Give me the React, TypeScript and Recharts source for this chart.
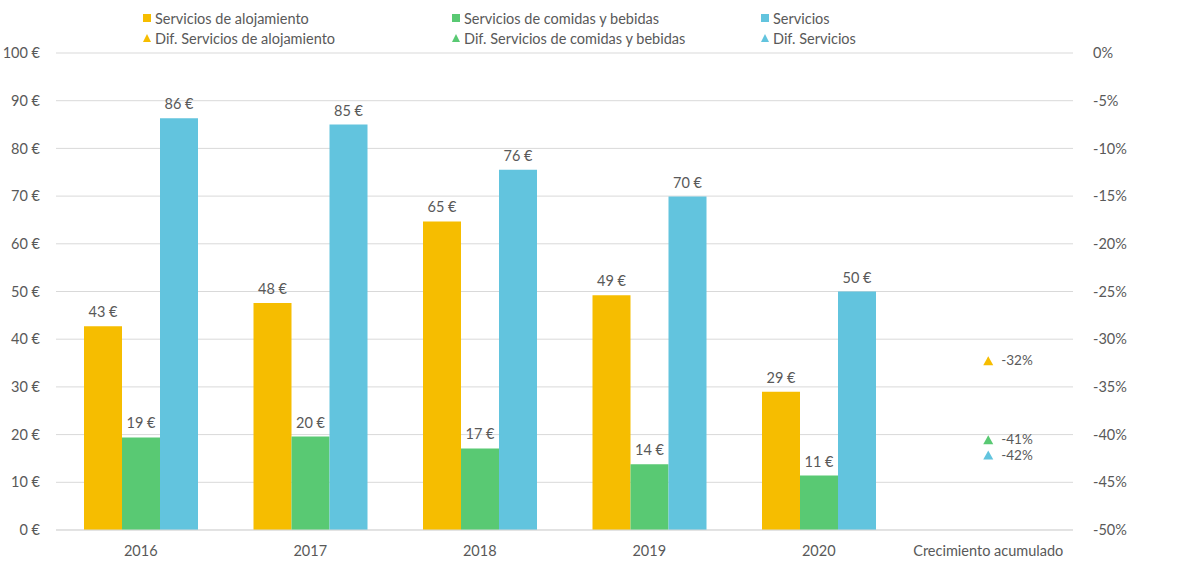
import React from 'react';
import {
  ComposedChart,
  Bar,
  Scatter,
  XAxis,
  YAxis,
  CartesianGrid,
  LabelList,
} from 'recharts';

const categories = ['2016', '2017', '2018', '2019', '2020', 'Crecimiento acumulado'];
const alojamiento = [42.7, 47.6, 64.7, 49.2, 29.0, null];
const comidas = [19.4, 19.6, 17.1, 13.8, 11.4, null];
const servicios = [86.3, 85.0, 75.5, 69.9, 50.0, null];
const difAlojamiento = [null, null, null, null, null, -32.3];
const difComidas = [null, null, null, null, null, -40.6];
const difServicios = [null, null, null, null, null, -42.2];

const leftTicks = [0, 10, 20, 30, 40, 50, 60, 70, 80, 90, 100];
const rightTicks = [0, -5, -10, -15, -20, -25, -30, -35, -40, -45, -50];

const YELLOW = '#F6BD00';
const GREEN = '#59C973';
const BLUE = '#62C4DE';
const TEXT = '#595959';
const GRID = '#D9D9D9';
const FONT = 'Lato, "Noto Sans", sans-serif';
const FS = 14.5;

const data = categories.map((name, i) => ({
  name,
  alojamiento: alojamiento[i],
  comidas: comidas[i],
  servicios: servicios[i],
  difAlojamiento: difAlojamiento[i],
  difComidas: difComidas[i],
  difServicios: difServicios[i],
}));

const legendItems = [
  { label: 'Servicios de alojamiento', color: YELLOW, type: 'square', x: 142, y: 18 },
  { label: 'Servicios de comidas y bebidas', color: GREEN, type: 'square', x: 451, y: 18 },
  { label: 'Servicios', color: BLUE, type: 'square', x: 760, y: 18 },
  { label: 'Dif. Servicios de alojamiento', color: YELLOW, type: 'triangle', x: 142, y: 38 },
  { label: 'Dif. Servicios de comidas y bebidas', color: GREEN, type: 'triangle', x: 451, y: 38 },
  { label: 'Dif. Servicios', color: BLUE, type: 'triangle', x: 760, y: 38 },
];

const Triangle = (props: any) => {
  const { cx, cy, fill } = props;
  if (cx == null || cy == null) return null;
  return <polygon points={`${cx - 5},${cy + 4} ${cx + 5},${cy + 4} ${cx},${cy - 5}`} fill={fill} />;
};

const euro = (v: any) => (v == null ? '' : `${Math.round(v)} €`);

const pctLabel = (props: any) => {
  const { x, y, width, height, value } = props;
  if (value == null) return null;
  const cx = x + (width || 0) / 2;
  const cy = y + (height || 0) / 2;
  return (
    <text x={cx + 13} y={cy} dy={4} fill={TEXT} fontSize={13.5} fontFamily={FONT}>
      {`${Math.round(value)}%`}
    </text>
  );
};

export default function App() {
  return (
    <div style={{ position: 'absolute', left: 0, top: 0, width: 1180, height: 571, background: '#fff', fontFamily: FONT }}>
      {legendItems.map((item) => (
        <div
          key={item.label}
          style={{ position: 'absolute', left: item.x, top: item.y - 9, height: 18, display: 'flex', alignItems: 'center', fontSize: FS, color: TEXT }}
        >
          <svg width={10} height={10} style={{ marginRight: 3 }}>
            {item.type === 'square' ? (
              <rect x={1} y={1} width={8} height={8} fill={item.color} />
            ) : (
              <polygon points="1,9 9,9 5,1" fill={item.color} />
            )}
          </svg>
          {item.label}
        </div>
      ))}
      <ComposedChart
        width={1180}
        height={571}
        data={data}
        margin={{ top: 53, right: 0, bottom: 0, left: 0 }}
        barGap={0}
        barSize={38}
        style={{ fontFamily: FONT }}
      >
        <CartesianGrid vertical={false} stroke={GRID} yAxisId="left" />
        <XAxis
          dataKey="name"
          tickLine={false}
          axisLine={{ stroke: GRID }}
          tick={{ fill: TEXT, fontSize: FS }}
          height={41}
          tickMargin={10}
          interval={0}
        />
        <YAxis
          yAxisId="left"
          domain={[0, 100]}
          ticks={leftTicks}
          tickFormatter={(v) => `${v} €`}
          axisLine={false}
          tickLine={false}
          tick={{ fill: TEXT, fontSize: FS }}
          width={56}
          tickMargin={10}
        />
        <YAxis
          yAxisId="right"
          orientation="right"
          domain={[-50, 0]}
          ticks={rightTicks}
          tickFormatter={(v) => `${v}%`}
          axisLine={false}
          tickLine={false}
          tick={{ fill: TEXT, fontSize: FS, textAnchor: 'start' }}
          width={107}
          tickMargin={14}
        />
        <Bar yAxisId="left" dataKey="alojamiento" fill={YELLOW} isAnimationActive={false}>
          <LabelList dataKey="alojamiento" position="top" offset={9} formatter={euro} fill={TEXT} fontSize={FS} />
        </Bar>
        <Bar yAxisId="left" dataKey="comidas" fill={GREEN} isAnimationActive={false}>
          <LabelList dataKey="comidas" position="top" offset={9} formatter={euro} fill={TEXT} fontSize={FS} />
        </Bar>
        <Bar yAxisId="left" dataKey="servicios" fill={BLUE} isAnimationActive={false}>
          <LabelList dataKey="servicios" position="top" offset={9} formatter={euro} fill={TEXT} fontSize={FS} />
        </Bar>
        <Scatter yAxisId="right" dataKey="difAlojamiento" fill={YELLOW} shape={<Triangle />} isAnimationActive={false}>
          <LabelList dataKey="difAlojamiento" content={pctLabel} />
        </Scatter>
        <Scatter yAxisId="right" dataKey="difComidas" fill={GREEN} shape={<Triangle />} isAnimationActive={false}>
          <LabelList dataKey="difComidas" content={pctLabel} />
        </Scatter>
        <Scatter yAxisId="right" dataKey="difServicios" fill={BLUE} shape={<Triangle />} isAnimationActive={false}>
          <LabelList dataKey="difServicios" content={pctLabel} />
        </Scatter>
      </ComposedChart>
    </div>
  );
}
